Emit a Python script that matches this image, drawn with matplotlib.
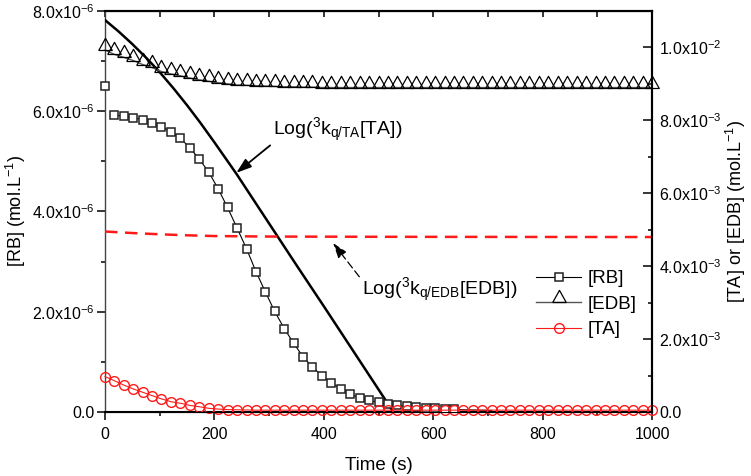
import matplotlib
matplotlib.use("Agg")
import matplotlib.pyplot as plt
from matplotlib.ticker import MultipleLocator

plt.rcParams['font.family'] = ['Liberation Sans', 'DejaVu Sans']
plt.rcParams['mathtext.default'] = 'regular'

# sampling times of the marker series (s)
time = [0, 17, 34, 52, 69, 86, 103, 121, 138, 155, 172, 190, 207, 224, 241, 259,
        276, 293, 310, 328, 345, 362, 379, 397, 414, 431, 448, 466, 483, 500, 517,
        534, 552, 569, 586, 603, 621, 638, 655, 672, 690, 707, 724, 741, 759, 776,
        793, 810, 828, 845, 862, 879, 897, 914, 931, 948, 966, 983, 1000]

# [RB] in 1e-6 mol/L (left axis), first point stands alone
rb = [6.50, 5.93, 5.90, 5.87, 5.83, 5.76, 5.69, 5.59, 5.46, 5.27, 5.05, 4.78,
      4.45, 4.08, 3.68, 3.25, 2.80, 2.40, 2.01, 1.66, 1.37, 1.10, 0.90, 0.72,
      0.58, 0.46, 0.36, 0.28, 0.23, 0.19, 0.15, 0.13, 0.11, 0.09, 0.08, 0.07,
      0.06, 0.05, 0.045, 0.04, 0.035, 0.03]

# [EDB] and [TA] in 1e-3 mol/L (right axis)
edb = [9.93, 9.81, 9.73, 9.64, 9.53, 9.45, 9.34, 9.27, 9.22, 9.16, 9.11, 9.07,
       9.03, 9.00, 8.97, 8.96, 8.95, 8.94, 8.93, 8.92, 8.92, 8.91, 8.91, 8.90,
       8.90, 8.90, 8.90, 8.90, 8.90, 8.90, 8.90, 8.90, 8.90, 8.90, 8.90, 8.90,
       8.90, 8.90, 8.90, 8.90, 8.90, 8.90, 8.90, 8.90, 8.90, 8.90, 8.90, 8.90,
       8.90, 8.90, 8.90, 8.90, 8.90, 8.90, 8.90, 8.90, 8.90, 8.90, 8.90]
ta = [0.97, 0.86, 0.74, 0.63, 0.54, 0.45, 0.36, 0.28, 0.24, 0.18, 0.145, 0.10,
      0.08, 0.065, 0.06, 0.055, 0.05, 0.05, 0.05, 0.05, 0.05, 0.05, 0.05, 0.05,
      0.05, 0.05, 0.05, 0.05, 0.05, 0.05, 0.05, 0.05, 0.05, 0.05, 0.05, 0.05,
      0.05, 0.05, 0.05, 0.05, 0.05, 0.05, 0.05, 0.05, 0.05, 0.05, 0.05, 0.05,
      0.05, 0.05, 0.05, 0.05, 0.05, 0.05, 0.05, 0.05, 0.05, 0.05, 0.05]

# Log(3kq/TA[TA]) curve, left-axis units 1e-6
log_ta_t = [0, 25, 50, 75, 100, 125, 150, 175, 200, 225, 241, 300, 350, 400, 450, 500, 527]
log_ta = [7.82, 7.59, 7.34, 7.07, 6.78, 6.46, 6.12, 5.76, 5.38, 4.99, 4.74,
          3.76, 2.93, 2.11, 1.28, 0.45, 0.0]

# Log(3kq/EDB[EDB]) curve
log_edb_t = [0, 50, 100, 150, 200, 300, 500, 1000]
log_edb = [3.60, 3.57, 3.545, 3.525, 3.51, 3.50, 3.495, 3.49]

left_ticks = [0, 2e-6, 4e-6, 6e-6, 8e-6]
left_labels = ['0.0', '2.0x10$^{-6}$', '4.0x10$^{-6}$', '6.0x10$^{-6}$', '8.0x10$^{-6}$']
right_ticks = [0, 2e-3, 4e-3, 6e-3, 8e-3, 1e-2]
right_labels = ['0.0', '2.0x10$^{-3}$', '4.0x10$^{-3}$', '6.0x10$^{-3}$',
                '8.0x10$^{-3}$', '1.0x10$^{-2}$']
x_ticks = [0, 200, 400, 600, 800, 1000]

fig = plt.figure(figsize=(7.51, 4.76), dpi=100)
ax = fig.add_axes([0.1398, 0.1345, 0.7284, 0.8424])
ax2 = ax.twinx()

# curves on the left axis
ax.plot(log_ta_t, [v * 1e-6 for v in log_ta], color='black', lw=1.8, zorder=3)
ax.plot(log_edb_t, [v * 1e-6 for v in log_edb], color='#ff1a1a', lw=1.8,
        ls=(0, (5, 3)), zorder=3)

rb_si = [v * 1e-6 for v in rb]
ax.plot(time[:1], rb_si[:1], ls='none', marker='s', ms=6.3, mfc='white',
        mec='#222222', mew=1.1, zorder=4, clip_on=False)
h_rb, = ax.plot(time[1:len(rb)], rb_si[1:], color='black', lw=0.8, marker='s',
                ms=6.3, mfc='white', mec='#222222', mew=1.1,
                markevery=list(range(0, 37)), zorder=4, label='[RB]')

tri = [(-0.5, 0), (0.5, 0), (0, 0.9), (-0.5, 0)]
h_edb, = ax2.plot(time, [v * 1e-3 for v in edb], color='#555555', lw=1.0,
                  marker=tri, ms=17.5, mfc='none', mec='black', mew=0.9,
                  clip_on=False, label='[EDB]')
h_ta, = ax2.plot(time, [v * 1e-3 for v in ta], color='#ff1a1a', lw=0.8,
                 marker='o', ms=7, mfc='none', mec='#ff1a1a', mew=1.0,
                 clip_on=False, label='[TA]')

ax.set_xlim(0, 1000)
ax.set_ylim(0, 8e-6)
ax2.set_ylim(0, 0.011)

ax.set_xticks(x_ticks, [str(v) for v in x_ticks])
ax.xaxis.set_minor_locator(MultipleLocator(100))
ax.set_yticks(left_ticks, left_labels)
ax.yaxis.set_minor_locator(MultipleLocator(1e-6))
ax2.set_yticks(right_ticks, right_labels)
ax2.yaxis.set_minor_locator(MultipleLocator(1e-3))

ax.tick_params(axis='y', which='major', direction='out', length=5.5, width=1.1,
               labelsize=11.5, pad=2)
ax.tick_params(axis='x', which='major', direction='out', length=5.5, width=1.1,
               labelsize=11.5, pad=5)
ax.tick_params(axis='both', which='minor', direction='out', length=3, width=1.1)
ax2.tick_params(axis='y', which='major', direction='in', length=6.5, width=1.1,
                labelsize=11.5, pad=5)
ax2.tick_params(axis='y', which='minor', direction='in', length=3, width=1.1)

top = ax.secondary_xaxis('top')
top.xaxis.set_major_locator(MultipleLocator(100))
top.tick_params(axis='x', direction='in', length=4.5, width=1.1, labeltop=False)
top.spines['top'].set_linewidth(1.5)

for side in ['top', 'bottom', 'right']:
    ax.spines[side].set_linewidth(1.5)
ax.spines['left'].set_linewidth(1.0)
ax.spines['left'].set_color('#444444')
ax2.spines['right'].set_linewidth(1.5)
ax2.spines['left'].set_visible(False)

ax.set_xlabel('Time (s)', fontsize=13.5, labelpad=11)
ax.set_ylabel('[RB] (mol.L$^{-1}$)', fontsize=13, labelpad=3)
ax2.set_ylabel('[TA] or [EDB] (mol.L$^{-1}$)', fontsize=13, labelpad=2)

ax.annotate('Log($^{3}$k$_{q/TA}$[TA])', xy=(240, 4.77e-6), xytext=(307, 5.63e-6),
            fontsize=14, ha='left', va='center',
            arrowprops=dict(arrowstyle='-|>,head_length=0.65,head_width=0.22',
                            color='black', lw=1.3, shrinkA=0, shrinkB=0,
                            relpos=(0.02, 0.1)))
ax.annotate('Log($^{3}$k$_{q/EDB}$[EDB])', xy=(417, 3.37e-6), xytext=(470, 2.43e-6),
            fontsize=14, ha='left', va='center',
            arrowprops=dict(arrowstyle='-|>,head_length=0.65,head_width=0.22',
                            color='black', lw=0.9, ls=(0, (6, 3)), shrinkA=0,
                            shrinkB=0, relpos=(0.0, 0.85)))

fig.legend(handles=[h_rb, h_edb, h_ta], loc='upper left',
           bbox_to_anchor=(0.7017, 0.452), frameon=False, fontsize=13.5,
           handlelength=2.4, handletextpad=0.35, labelspacing=0.45, borderpad=0)

fig.savefig('out.png', dpi=100)
